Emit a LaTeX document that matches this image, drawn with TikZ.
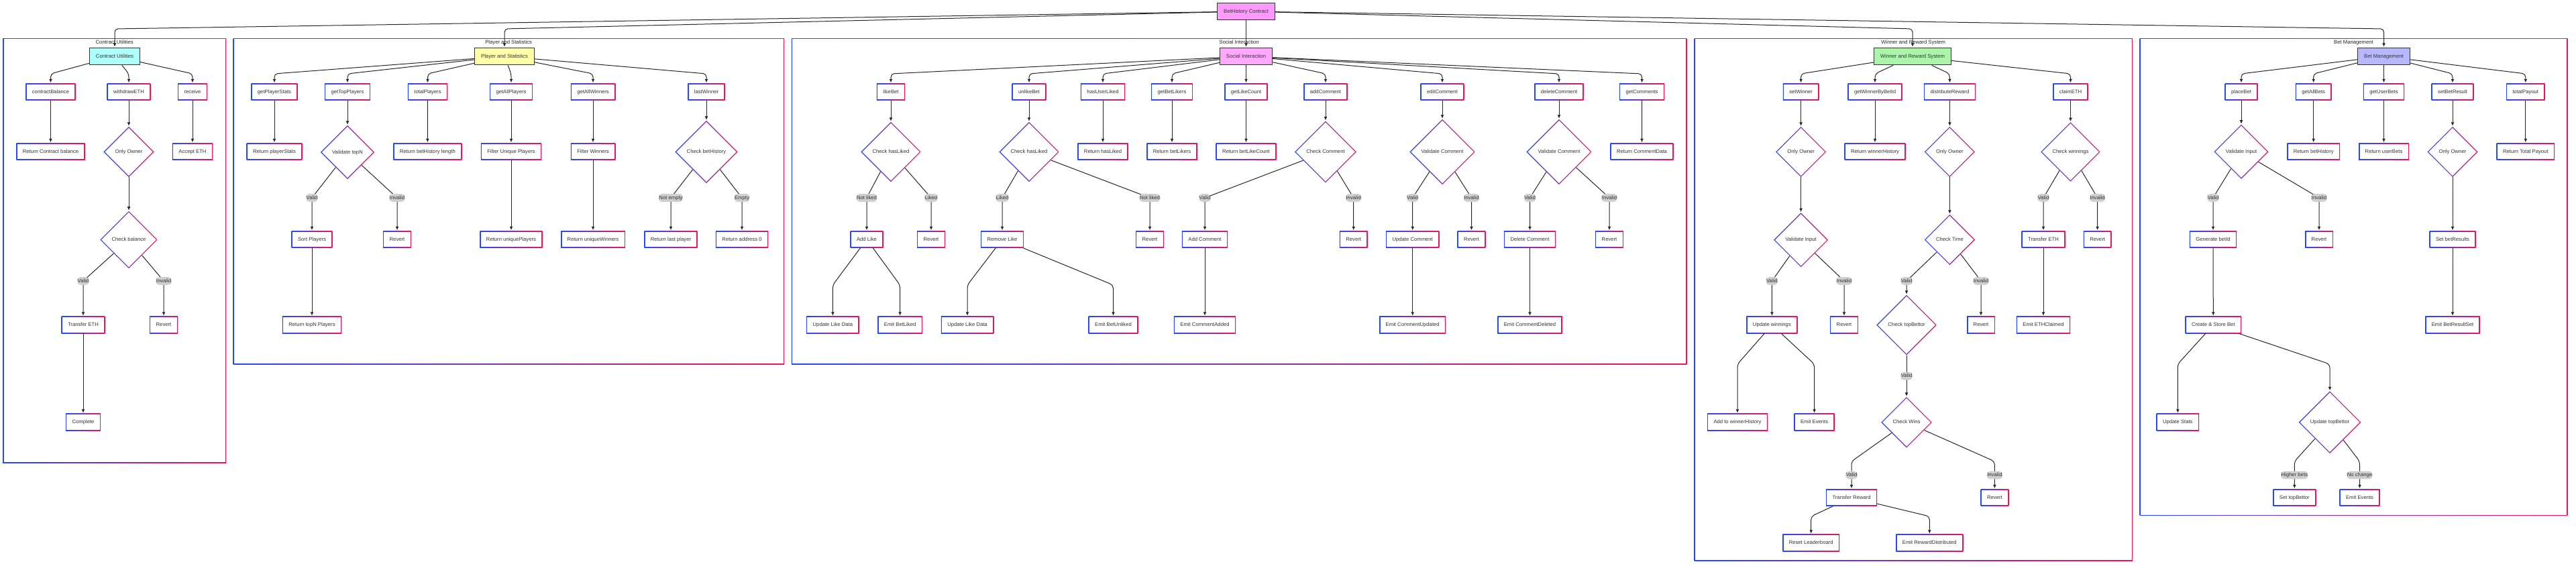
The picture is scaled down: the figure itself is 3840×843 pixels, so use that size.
\documentclass[tikz,border=0pt]{standalone}
\usepackage{fontspec}
\setmainfont{Liberation Sans}
\usetikzlibrary{shapes.geometric,arrows.meta}

\definecolor{gblue}{HTML}{2448FF}
\definecolor{gred}{HTML}{F0145A}
\definecolor{txtgray}{HTML}{333333}
\definecolor{lblgray}{HTML}{CFCFCF}
\definecolor{rootpink}{HTML}{FF99FF}
\definecolor{socpink}{HTML}{FFAAFF}
\definecolor{utilcyan}{HTML}{AFFFFA}
\definecolor{statyellow}{HTML}{FFFFAA}
\definecolor{wingreen}{HTML}{AAF5AA}
\definecolor{betblue}{HTML}{B8B8FF}

\begin{document}
\begin{tikzpicture}[x=1pt, y=-1pt, font=\fontsize{7.7}{9}\selectfont,
  gframe/.style={fill=white, path picture={
    \shade[left color=gblue, right color=gred]
      (path picture bounding box.south west) rectangle (path picture bounding box.north east);
    \fill[white] ([shift={(1.3pt,-1.3pt)}]path picture bounding box.north west)
      rectangle ([shift={(-1.3pt,1.3pt)}]path picture bounding box.south east);}},
  gdiam/.style={fill=white, path picture={
    \shade[left color=gblue, right color=gred]
      (path picture bounding box.south west) rectangle (path picture bounding box.north east);
    \fill[white] ([yshift=-1.85pt]path picture bounding box.north)
      -- ([xshift=-1.85pt]path picture bounding box.east)
      -- ([yshift=1.85pt]path picture bounding box.south)
      -- ([xshift=1.85pt]path picture bounding box.west) -- cycle;}},
  fn/.style={gframe, rectangle, minimum height=25.5pt, inner xsep=9.5pt, inner ysep=0pt,
    text height=5.8pt, text depth=1.6pt, text=txtgray},
  dec/.style={gdiam, diamond, aspect=1, inner sep=6.8pt,
    text height=5.8pt, text depth=1.6pt, text=txtgray},
  head/.style={rectangle, draw=txtgray, line width=1.3pt, minimum height=25.5pt,
    inner xsep=9.5pt, inner ysep=0pt, text height=5.8pt, text depth=1.6pt, text=txtgray},
  ctr/.style={gframe, rectangle, inner sep=0pt, anchor=north west},
  ttl/.style={anchor=north, yshift=-2.5pt, inner sep=0pt, text height=5.8pt, text depth=1.6pt, text=black!85},
  elbl/.style={fill=lblgray, inner xsep=0.6pt, inner ysep=2.2pt, text height=5.8pt, text depth=1.6pt, text=txtgray},
  arr/.style={draw=black!85, line width=1pt, rounded corners=5pt, >={Latex[length=5.5pt,width=5pt]}, ->, shorten >=0.8pt}]

\useasboundingbox (0,0) rectangle (3840,843);

% groups
\node[ctr, minimum width=333pt, minimum height=633pt, label={[ttl]north:Contract Utilities}] (utilbox) at (4,57) {};
\node[ctr, minimum width=821.3pt, minimum height=486pt, label={[ttl]north:Player and Statistics}] (statbox) at (347.3,57) {};
\node[ctr, minimum width=1334.7pt, minimum height=486pt, label={[ttl]north:Social Interaction}] (socbox) at (1179.6,57) {};
\node[ctr, minimum width=653.4pt, minimum height=779pt, label={[ttl]north:Winner and Reward System}] (winbox) at (2525.3,57) {};
\node[ctr, minimum width=638pt, minimum height=711.7pt, label={[ttl]north:Bet Management}] (betbox) at (3189.3,57) {};

\node[head, fill=rootpink] (root) at (1857.5,17) {BetHistory Contract};

% contract utilities
\node[head, fill=utilcyan] (cu) at (171,84) {Contract Utilities};
\node[fn] (cbal) at (75.5,137) {contractBalance};
\node[fn] (wdeth) at (192,137) {withdrawETH};
\node[fn] (recv) at (287,137) {receive};
\node[fn] (retcb) at (75.5,226) {Return Contract balance};
\node[dec] (own1) at (192,226.5) {Only Owner};
\node[fn] (acc) at (287,226) {Accept ETH};
\node[dec] (chkbal) at (192,357.5) {Check balance};
\node[fn] (treth1) at (124,484.5) {Transfer ETH};
\node[fn] (rev1) at (244,484.5) {Revert};
\node[fn] (compl) at (124,629.5) {Complete};

% player and statistics
\node[head, fill=statyellow] (ps) at (752,84) {Player and Statistics};
\node[fn] (gps) at (409,137) {getPlayerStats};
\node[fn] (gtp) at (518,137) {getTopPlayers};
\node[fn] (tpl) at (637.5,137) {totalPlayers};
\node[fn] (gap) at (762,137) {getAllPlayers};
\node[fn] (gaw) at (884,137) {getAllWinners};
\node[fn] (lw) at (1053,137) {lastWinner};
\node[fn] (rps) at (409,226) {Return playerStats};
\node[dec] (vtop) at (518,227) {Validate topN};
\node[fn] (rbhl) at (637.3,226) {Return betHistory length};
\node[fn] (fup) at (762,226) {Filter Unique Players};
\node[fn] (fw) at (884,226) {Filter Winners};
\node[dec] (cbh) at (1053,226.5) {Check betHistory};
\node[fn] (sortp) at (465,357) {Sort Players};
\node[fn] (rev2) at (592,357) {Revert};
\node[fn] (rup) at (762,357) {Return uniquePlayers};
\node[fn] (ruw) at (884,357) {Return uniqueWinners};
\node[fn] (rlp) at (1000,357) {Return last player};
\node[fn] (ra0) at (1106,357) {Return address 0};
\node[fn] (rtopn) at (465,484.5) {Return topN Players};

% social interaction
\node[head, fill=socpink] (si) at (1857.5,84) {Social Interaction};
\node[fn] (lb) at (1328,137) {likeBet};
\node[fn] (ulb) at (1534,137) {unlikeBet};
\node[fn] (hul) at (1644,137) {hasUserLiked};
\node[fn] (gbl) at (1747,137) {getBetLikers};
\node[fn] (glc) at (1857.5,137) {getLikeCount};
\node[fn] (acm) at (1976,137) {addComment};
\node[fn] (ecm) at (2150,137) {editComment};
\node[fn] (dcm) at (2324,137) {deleteComment};
\node[fn] (gcm) at (2447.6,137) {getComments};
\node[dec] (chl1) at (1328,226.5) {Check hasLiked};
\node[dec] (chl2) at (1534,226.5) {Check hasLiked};
\node[fn] (rhl) at (1644,226) {Return hasLiked};
\node[fn] (rbl) at (1747,226) {Return betLikers};
\node[fn] (rblc) at (1857.5,226) {Return betLikeCount};
\node[dec] (ccm) at (1976,226.5) {Check Comment};
\node[dec] (vcm1) at (2150,226.5) {Validate Comment};
\node[dec] (vcm2) at (2324,226.5) {Validate Comment};
\node[fn] (rcd) at (2447.5,226) {Return CommentData};
\node[fn] (addl) at (1292,357) {Add Like};
\node[fn] (rev3) at (1388,357) {Revert};
\node[fn] (reml) at (1494,357) {Remove Like};
\node[fn] (rev4) at (1714,357) {Revert};
\node[fn] (addc) at (1796,357) {Add Comment};
\node[fn] (rev5) at (2017.7,357) {Revert};
\node[fn] (updc) at (2105.7,357) {Update Comment};
\node[fn] (rev6) at (2193.5,357) {Revert};
\node[fn] (delc) at (2280.5,357) {Delete Comment};
\node[fn] (rev7) at (2399,357) {Revert};
\node[fn] (uld1) at (1241.4,484.5) {Update Like Data};
\node[fn] (ebl) at (1341.6,484.5) {Emit BetLiked};
\node[fn] (uld2) at (1442,484.5) {Update Like Data};
\node[fn] (ebu) at (1659.5,484.5) {Emit BetUnliked};
\node[fn] (eca) at (1796,484.5) {Emit CommentAdded};
\node[fn] (ecu) at (2105.7,484.5) {Emit CommentUpdated};
\node[fn] (ecd) at (2280.5,484.5) {Emit CommentDeleted};

% winner and reward system
\node[head, fill=wingreen] (wr) at (2851,84) {Winner and Reward System};
\node[fn] (sw) at (2684.6,137) {setWinner};
\node[fn] (gwb) at (2795,137) {getWinnerByBetId};
\node[fn] (dr) at (2906.4,137) {distributeReward};
\node[fn] (ce) at (3086.5,137) {claimETH};
\node[dec] (own2) at (2684.6,226.5) {Only Owner};
\node[fn] (rwh) at (2795,226) {Return winnerHistory};
\node[dec] (own3) at (2906.4,226.5) {Only Owner};
\node[dec] (cwin) at (3086.5,226.5) {Check winnings};
\node[dec] (vin1) at (2684.6,357.8) {Validate Input};
\node[dec] (ctime) at (2906.4,357.5) {Check Time};
\node[fn] (treth2) at (3046,357) {Transfer ETH};
\node[fn] (rev8) at (3126.6,357) {Revert};
\node[fn] (updw) at (2641.4,484.5) {Update winnings};
\node[fn] (rev9) at (2749,484.5) {Revert};
\node[dec] (ctb) at (2842,484.7) {Check topBettor};
\node[fn] (rev10) at (2953,484.5) {Revert};
\node[fn] (eethc) at (3046,484.5) {Emit ETHClaimed};
\node[fn] (awh) at (2590,629.5) {Add to winnerHistory};
\node[fn] (emev1) at (2704.6,629.5) {Emit Events};
\node[dec] (cwins) at (2842,629.8) {Check Wins};
\node[fn] (trew) at (2760,742) {Transfer Reward};
\node[fn] (rev11) at (2973.4,742) {Revert};
\node[fn] (rlead) at (2699.7,809.5) {Reset Leaderboard};
\node[fn] (erd) at (2876.3,809.5) {Emit RewardDistributed};

% bet management
\node[head, fill=betblue] (bm) at (3553.5,84) {Bet Management};
\node[fn] (pb) at (3341,137) {placeBet};
\node[fn] (gab) at (3448.7,137) {getAllBets};
\node[fn] (gub) at (3553.5,137) {getUserBets};
\node[fn] (sbr) at (3656,137) {setBetResult};
\node[fn] (tp) at (3764.8,137) {totalPayout};
\node[dec] (vin2) at (3341,226.3) {Validate Input};
\node[fn] (rbh) at (3448.7,226) {Return betHistory};
\node[fn] (rub) at (3553.5,226) {Return userBets};
\node[dec] (own4) at (3656,226.5) {Only Owner};
\node[fn] (rtp) at (3764.8,226) {Return Total Payout};
\node[fn] (gbid) at (3299,357) {Generate betId};
\node[fn] (rev12) at (3457,357) {Revert};
\node[fn] (sbres) at (3656,357) {Set betResults};
\node[fn] (csb) at (3299.3,484.5) {Create \& Store Bet};
\node[fn] (ebrs) at (3656,484.5) {Emit BetResultSet};
\node[fn] (ust) at (3246.3,629.5) {Update Stats};
\node[dec] (utb) at (3473,629.7) {Update topBettor};
\node[fn] (stb) at (3420.3,742) {Set topBettor};
\node[fn] (emev2) at (3517.5,742) {Emit Events};

% edges
\draw[arr] (root) -- (cu |- 0,43) -- (cu);
\draw[arr] (root) -- (ps |- 0,43) -- (ps);
\draw[arr] (root) -- (si);
\draw[arr] (root) -- (wr |- 0,43) -- (wr);
\draw[arr] (root) -- (bm |- 0,43) -- (bm);

\foreach \m in {cbal,wdeth,recv} \draw[arr] (cu) -- (\m |- 0,110) -- (\m);
\draw[arr] (cbal) -- (retcb);
\draw[arr] (wdeth) -- (own1);
\draw[arr] (recv) -- (acc);
\draw[arr] (own1) -- (chkbal);
\draw[arr] (chkbal) -- (treth1 |- 0,419) node[elbl]{Valid} -- (treth1);
\draw[arr] (chkbal) -- (rev1 |- 0,419) node[elbl]{Invalid} -- (rev1);
\draw[arr] (treth1) -- (compl);

\foreach \m in {gps,gtp,tpl,gap,gaw,lw} \draw[arr] (ps) -- (\m |- 0,110) -- (\m);
\draw[arr] (gps) -- (rps);
\draw[arr] (gtp) -- (vtop);
\draw[arr] (tpl) -- (rbhl);
\draw[arr] (gap) -- (fup);
\draw[arr] (gaw) -- (fw);
\draw[arr] (lw) -- (cbh);
\draw[arr] (vtop) -- (sortp |- 0,295) node[elbl]{Valid} -- (sortp);
\draw[arr] (vtop) -- (rev2 |- 0,295) node[elbl]{Invalid} -- (rev2);
\draw[arr] (fup) -- (rup);
\draw[arr] (fw) -- (ruw);
\draw[arr] (cbh) -- (rlp |- 0,295) node[elbl]{Not empty} -- (rlp);
\draw[arr] (cbh) -- (ra0 |- 0,295) node[elbl]{Empty} -- (ra0);
\draw[arr] (sortp) -- (rtopn);

\foreach \m in {lb,ulb,hul,gbl,acm,ecm,dcm,gcm} \draw[arr] (si) -- (\m |- 0,110) -- (\m);
\draw[arr] (si) -- (glc);
\draw[arr] (lb) -- (chl1);
\draw[arr] (ulb) -- (chl2);
\draw[arr] (hul) -- (rhl);
\draw[arr] (gbl) -- (rbl);
\draw[arr] (glc) -- (rblc);
\draw[arr] (acm) -- (ccm);
\draw[arr] (ecm) -- (vcm1);
\draw[arr] (dcm) -- (vcm2);
\draw[arr] (gcm) -- (rcd);
\draw[arr] (chl1) -- (addl |- 0,295) node[elbl]{Not liked} -- (addl);
\draw[arr] (chl1) -- (rev3 |- 0,295) node[elbl]{Liked} -- (rev3);
\draw[arr] (chl2) -- (reml |- 0,295) node[elbl]{Liked} -- (reml);
\draw[arr] (chl2) -- (rev4 |- 0,295) node[elbl]{Not liked} -- (rev4);
\draw[arr] (ccm) -- (addc |- 0,295) node[elbl]{Valid} -- (addc);
\draw[arr] (ccm) -- (rev5 |- 0,295) node[elbl]{Invalid} -- (rev5);
\draw[arr] (vcm1) -- (updc |- 0,295) node[elbl]{Valid} -- (updc);
\draw[arr] (vcm1) -- (rev6 |- 0,295) node[elbl]{Invalid} -- (rev6);
\draw[arr] (vcm2) -- (delc |- 0,295) node[elbl]{Valid} -- (delc);
\draw[arr] (vcm2) -- (rev7 |- 0,295) node[elbl]{Invalid} -- (rev7);
\draw[arr] (addl) -- (uld1 |- 0,425) -- (uld1);
\draw[arr] (addl) -- (ebl |- 0,425) -- (ebl);
\draw[arr] (reml) -- (uld2 |- 0,425) -- (uld2);
\draw[arr] (reml) -- (ebu |- 0,425) -- (ebu);
\draw[arr] (addc) -- (eca);
\draw[arr] (updc) -- (ecu);
\draw[arr] (delc) -- (ecd);

\foreach \m in {sw,gwb,dr,ce} \draw[arr] (wr) -- (\m |- 0,110) -- (\m);
\draw[arr] (sw) -- (own2);
\draw[arr] (gwb) -- (rwh);
\draw[arr] (dr) -- (own3);
\draw[arr] (ce) -- (cwin);
\draw[arr] (own2) -- (vin1);
\draw[arr] (own3) -- (ctime);
\draw[arr] (cwin) -- (treth2 |- 0,295) node[elbl]{Valid} -- (treth2);
\draw[arr] (cwin) -- (rev8 |- 0,295) node[elbl]{Invalid} -- (rev8);
\draw[arr] (vin1) -- (updw |- 0,419) node[elbl]{Valid} -- (updw);
\draw[arr] (vin1) -- (rev9 |- 0,419) node[elbl]{Invalid} -- (rev9);
\draw[arr] (ctime) -- (ctb |- 0,419) node[elbl]{Valid} -- (ctb);
\draw[arr] (ctime) -- (rev10 |- 0,419) node[elbl]{Invalid} -- (rev10);
\draw[arr] (treth2) -- (eethc);
\draw[arr] (updw) -- (awh |- 0,543) -- (awh);
\draw[arr] (updw) -- (emev1 |- 0,543) -- (emev1);
\draw[arr] (ctb) -- node[elbl]{Valid} (cwins);
\draw[arr] (cwins) -- (trew |- 0,688) -- node[elbl]{Valid} (trew);
\draw[arr] (cwins) -- (rev11 |- 0,688) -- node[elbl]{Invalid} (rev11);
\draw[arr] (trew) -- (rlead |- 0,770) -- (rlead);
\draw[arr] (trew) -- (erd |- 0,770) -- (erd);

\foreach \m in {pb,gab,sbr,tp} \draw[arr] (bm) -- (\m |- 0,110) -- (\m);
\draw[arr] (bm) -- (gub);
\draw[arr] (pb) -- (vin2);
\draw[arr] (gab) -- (rbh);
\draw[arr] (gub) -- (rub);
\draw[arr] (sbr) -- (own4);
\draw[arr] (tp) -- (rtp);
\draw[arr] (vin2) -- (gbid |- 0,295) node[elbl]{Valid} -- (gbid);
\draw[arr] (vin2) -- (rev12 |- 0,295) node[elbl]{Invalid} -- (rev12);
\draw[arr] (own4) -- (sbres);
\draw[arr] (gbid) -- (csb);
\draw[arr] (sbres) -- (ebrs);
\draw[arr] (csb) -- (ust |- 0,543) -- (ust);
\draw[arr] (csb) -- (utb |- 0,543) -- (utb);
\draw[arr] (utb) -- (stb |- 0,688) -- node[elbl]{Higher bets} (stb);
\draw[arr] (utb) -- (emev2 |- 0,688) -- node[elbl]{No change} (emev2);

\end{tikzpicture}
\end{document}
